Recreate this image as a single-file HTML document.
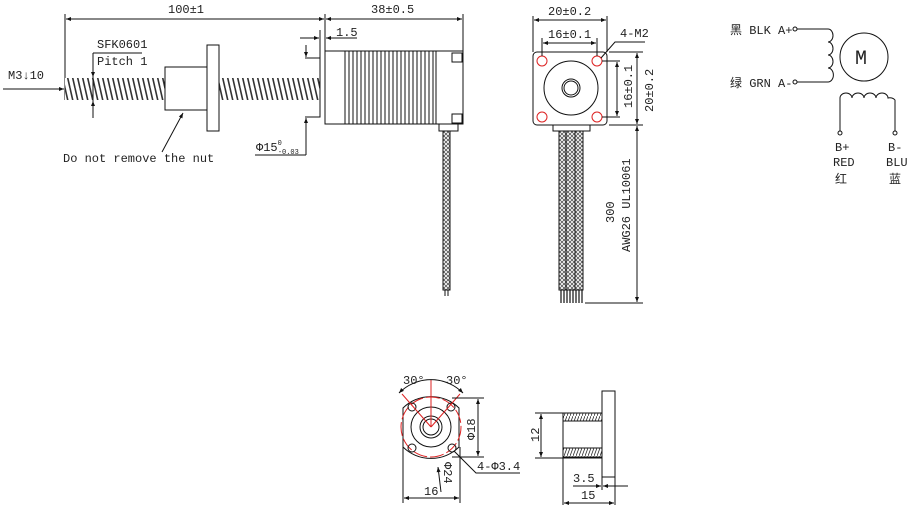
<!DOCTYPE html>
<html><head><meta charset="utf-8"><style>
html,body{margin:0;padding:0;background:#fff;width:912px;height:515px;overflow:hidden}
svg text{font-family:"Liberation Mono","Noto Sans CJK SC",monospace;fill:#222}
</style></head><body>
<svg width="912" height="515" viewBox="0 0 912 515" xmlns="http://www.w3.org/2000/svg">
<defs>
<marker id="a" viewBox="0 0 10 10" refX="10" refY="5" markerWidth="7" markerHeight="5" orient="auto-start-reverse"><path d="M0,1 L10,5 L0,9z" fill="#111"/></marker>
<pattern id="th" width="5" height="22" patternUnits="userSpaceOnUse"><rect width="5" height="22" fill="#fff"/><path d="M0,0 L5,22 M-5,0 L0,22 M5,0 L10,22" stroke="#333" stroke-width="1.6"/></pattern>
<pattern id="cab" width="4" height="4" patternUnits="userSpaceOnUse"><rect width="4" height="4" fill="#fff"/><path d="M0,0L4,4M4,0L0,4" stroke="#555" stroke-width="0.8"/></pattern>
<pattern id="hat" width="3" height="8" patternUnits="userSpaceOnUse"><path d="M0,8L3,0" stroke="#333" stroke-width="0.8"/></pattern>
</defs>
<g stroke="#111" stroke-width="1" fill="none">
<!-- side view -->
<line x1="65" y1="14" x2="65" y2="100"/>
<line x1="325" y1="14" x2="325" y2="51"/>
<line x1="463" y1="14" x2="463" y2="51"/>
<line x1="66" y1="19" x2="324" y2="19" marker-start="url(#a)" marker-end="url(#a)"/>
<line x1="326" y1="19" x2="462" y2="19" marker-start="url(#a)" marker-end="url(#a)"/>
<rect x="65" y="78" width="100" height="22" fill="url(#th)" stroke="none"/>
<rect x="219" y="78" width="101" height="22" fill="url(#th)" stroke="none"/>
<rect x="165" y="67" width="42" height="43" fill="#fff"/>
<rect x="207" y="45" width="12" height="86" fill="#fff"/>
<rect x="325" y="51" width="138" height="73" fill="#fff"/>
<path d="M345,51V124M349,51V124M353,51V124M357,51V124M361,51V124M365,51V124M369,51V124M373,51V124M377,51V124M381,51V124M385,51V124M389,51V124M393,51V124M397,51V124M401,51V124M405,51V124M409,51V124M413,51V124M417,51V124M421,51V124M425,51V124M429,51V124M433,51V124M436,51V124"/>
<rect x="452" y="53" width="10" height="9"/><rect x="452" y="114" width="10" height="9"/>
<rect x="439" y="124" width="19" height="7"/>
<rect x="443" y="131" width="7" height="159" fill="url(#cab)"/>
<line x1="445" y1="290" x2="445" y2="296"/><line x1="448" y1="290" x2="448" y2="296"/>
<path d="M305,58H320V117H305"/>
<line x1="320" y1="30" x2="320" y2="58"/>
<line x1="300" y1="38" x2="319" y2="38" marker-end="url(#a)"/>
<line x1="357" y1="38" x2="326" y2="38" marker-end="url(#a)"/>
<line x1="306" y1="45" x2="306" y2="57" marker-end="url(#a)"/>
<line x1="306" y1="155" x2="306" y2="118" marker-end="url(#a)"/>
<line x1="255" y1="155" x2="306" y2="155"/>
<path d="M93,53H142M93,53V118"/>
<line x1="93" y1="66" x2="93" y2="77" marker-end="url(#a)"/>
<line x1="93" y1="112" x2="93" y2="101" marker-end="url(#a)"/>
<line x1="3" y1="89" x2="64" y2="89" marker-end="url(#a)"/>
<line x1="162" y1="152" x2="183" y2="113" marker-end="url(#a)"/>
<!-- front view -->
<rect x="533" y="52" width="74" height="73" rx="4" fill="#fff"/>
<circle cx="571" cy="88" r="27"/><circle cx="571" cy="88" r="9"/><circle cx="571" cy="88" r="7"/>
<g stroke="#d22"><circle cx="542" cy="61" r="5"/><circle cx="597" cy="61" r="5"/><circle cx="542" cy="117" r="5"/><circle cx="597" cy="117" r="5"/></g>
<rect x="553" y="125" width="37" height="6"/>
<rect x="559" y="131" width="24" height="159" fill="url(#cab)"/>
<path d="M566,131V290M575,131V290"/>
<path d="M561,290V303M564,290V303M567,290V303M570,290V303M573,290V303M576,290V303M579,290V303M582,290V303" stroke-width="1.2"/>
<line x1="533" y1="16" x2="533" y2="52"/><line x1="607" y1="16" x2="607" y2="52"/>
<line x1="534" y1="20" x2="606" y2="20" marker-start="url(#a)" marker-end="url(#a)"/>
<line x1="542" y1="38" x2="542" y2="56"/><line x1="597" y1="38" x2="597" y2="56"/>
<line x1="543" y1="43" x2="596" y2="43" marker-start="url(#a)" marker-end="url(#a)"/>
<path d="M601,58L615,42H645"/>
<line x1="602" y1="61" x2="620" y2="61"/><line x1="602" y1="117" x2="620" y2="117"/>
<line x1="617" y1="62" x2="617" y2="116" marker-start="url(#a)" marker-end="url(#a)"/>
<line x1="609" y1="52" x2="643" y2="52"/><line x1="609" y1="125" x2="643" y2="125"/>
<line x1="637" y1="53" x2="637" y2="124" marker-start="url(#a)" marker-end="url(#a)"/>
<line x1="585" y1="303" x2="643" y2="303"/>
<line x1="637" y1="126" x2="637" y2="302" marker-start="url(#a)" marker-end="url(#a)"/>
<!-- schematic -->
<circle cx="795" cy="29" r="2"/><circle cx="795" cy="82" r="2"/>
<path d="M797,29H828A5,6.5 0 0 1 828,42A5,6.5 0 0 1 828,55A5,6.5 0 0 1 828,68A5,6.5 0 0 1 828,82H797"/>
<circle cx="864" cy="57" r="24"/>
<path d="M840,131V98A6,5 0 0 1 852,98A6,5 0 0 1 864,98A6,5 0 0 1 876,98A6,5 0 0 1 888,98V98A6,5 0 0 1 895,100V131"/>
<circle cx="840" cy="133" r="2"/><circle cx="895" cy="133" r="2"/>
<!-- flange front view -->
<path d="M403,408A40,40 0 0 1 459,408V447A40,40 0 0 1 403,447Z"/>
<circle cx="431" cy="427" r="30" stroke="#d22" stroke-dasharray="14,3"/>
<circle cx="431" cy="427" r="20"/><circle cx="431" cy="427" r="11"/><circle cx="431" cy="427" r="8"/>
<circle cx="412" cy="407" r="4"/><circle cx="451" cy="407" r="4"/><circle cx="412" cy="448" r="4"/><circle cx="452" cy="448" r="4"/>
<g stroke="#d22"><line x1="431" y1="427" x2="431" y2="380"/><line x1="431" y1="427" x2="402" y2="394"/><line x1="431" y1="427" x2="460" y2="394"/></g>
<path d="M399,393A45,45 0 0 1 463,393" marker-start="url(#a)" marker-end="url(#a)"/>
<line x1="452" y1="398" x2="484" y2="398"/><line x1="452" y1="457" x2="484" y2="457"/>
<line x1="478" y1="399" x2="478" y2="456" marker-start="url(#a)" marker-end="url(#a)"/>
<line x1="403" y1="447" x2="403" y2="503"/><line x1="460" y1="447" x2="460" y2="503"/>
<line x1="404" y1="498" x2="459" y2="498" marker-start="url(#a)" marker-end="url(#a)"/>
<line x1="441" y1="492" x2="438" y2="467" marker-end="url(#a)"/>
<path d="M454,451L476,473H520"/>
<!-- flange side view -->
<rect x="602" y="391" width="13" height="86" fill="#fff"/>
<rect x="563" y="413" width="39" height="45"/>
<rect x="563" y="413" width="39" height="8" fill="url(#hat)"/>
<rect x="563" y="448" width="39" height="9" fill="url(#hat)"/>
<line x1="535" y1="413" x2="563" y2="413"/><line x1="535" y1="458" x2="563" y2="458"/>
<line x1="541" y1="414" x2="541" y2="457" marker-start="url(#a)" marker-end="url(#a)"/>
<line x1="563" y1="458" x2="563" y2="505"/><line x1="615" y1="477" x2="615" y2="505"/><line x1="602" y1="477" x2="602" y2="490"/>
<line x1="573" y1="486" x2="601" y2="486" marker-end="url(#a)"/>
<line x1="628" y1="486" x2="603" y2="486" marker-end="url(#a)"/>
<line x1="564" y1="503" x2="614" y2="503" marker-start="url(#a)" marker-end="url(#a)"/>
</g>
<g font-size="12">
<text x="168" y="13">100±1</text>
<text x="371" y="13">38±0.5</text>
<text x="336" y="36">1.5</text>
<text x="97" y="48">SFK0601</text>
<text x="97" y="65">Pitch 1</text>
<text x="8" y="79">M3↓10</text>
<text x="63" y="162">Do not remove the nut</text>
<text x="256" y="151">Φ15<tspan font-size="7" dy="-6">0</tspan><tspan font-size="7" dx="-4" dy="9">-0.03</tspan></text>
<text x="548" y="15">20±0.2</text>
<text x="548" y="38">16±0.1</text>
<text x="620" y="37">4-M2</text>
<text transform="translate(632,108) rotate(-90)">16±0.1</text>
<text transform="translate(653,112) rotate(-90)">20±0.2</text>
<text transform="translate(614,223) rotate(-90)">300</text>
<text transform="translate(630,252) rotate(-90)">AWG26 UL10061</text>
<text x="730" y="34">黑 BLK A+</text>
<text x="730" y="87">绿 GRN A-</text>
<text x="855" y="64" font-size="20" font-family="Liberation Sans,sans-serif">M</text>
<text x="835" y="151">B+</text><text x="888" y="151">B-</text>
<text x="833" y="166">RED</text><text x="886" y="166">BLU</text>
<text x="835" y="183">红</text><text x="889" y="183">蓝</text>
<text x="403" y="384">30°</text><text x="446" y="384">30°</text>
<text transform="translate(475,440) rotate(-90)">Φ18</text>
<text transform="translate(444,462) rotate(90)">Φ24</text>
<text x="424" y="495">16</text>
<text x="477" y="470">4-Φ3.4</text>
<text transform="translate(539,442) rotate(-90)">12</text>
<text x="573" y="482">3.5</text>
<text x="581" y="499">15</text>
</g>
</svg>
</body></html>
